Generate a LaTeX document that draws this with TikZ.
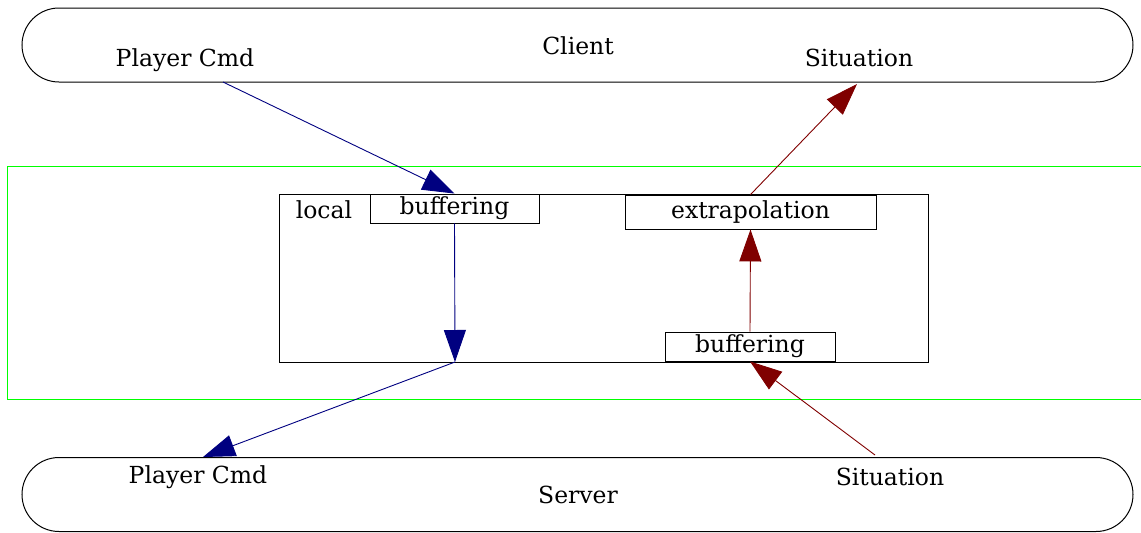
\documentclass[tikz,border=0pt]{standalone}
\usepackage{fontspec}
\setmainfont{DejaVu Serif}
\usetikzlibrary{arrows.meta,shapes.misc}
\definecolor{cmdblue}{HTML}{000080}
\definecolor{sitred}{HTML}{800000}
\definecolor{netgreen}{HTML}{00FF00}
\begin{document}
\begin{tikzpicture}[x=1pt,y=-1pt,
  every node/.style={font=\fontsize{23.5}{27}\selectfont, inner sep=0pt},
  endpoint/.style={draw, line width=1pt, rounded rectangle,
    minimum width=1111pt, minimum height=74pt},
  procbox/.style={draw, line width=0.9pt, minimum height=29pt},
  flow/.style={line width=0.9pt, -{Triangle[length=32pt,width=22pt]}},
  cmdflow/.style={flow, cmdblue},
  sitflow/.style={flow, sitred}]
\useasboundingbox (0,0) rectangle (1141,533);

% network zone
\draw[netgreen, line width=0.9pt] (7,166) rectangle (1160,399);

% client and server endpoints
\node[endpoint] (client) at (577.5,45) {};
\node[endpoint] (server) at (577.5,494.5) {};
\node[anchor=base] (clientlbl) at (578,54) {Client};
\node[anchor=base] (serverlbl) at (578,503) {Server};
\node[anchor=base] (cmdC) at (185,66) {Player Cmd};
\node[anchor=base] (sitC) at (859,66) {Situation};
\node[anchor=base] (cmdS) at (198,483) {Player Cmd};
\node[anchor=base] (sitS) at (890,485) {Situation};

% local processing
\node[draw, line width=0.9pt, minimum width=649pt, minimum height=168pt] (local) at (603.5,278) {};
\node[anchor=base] (locallbl) at (324,218) {local};
\node[procbox, minimum width=169pt, fill=white] (bufTop) at (454.5,208.5) {buffering};
\node[procbox, minimum width=251pt, minimum height=34pt] (extrap) at (750.5,212) {extrapolation};
\node[procbox, minimum width=170pt] (bufBot) at (750,346.5) {buffering};

% connector end points on the outlines
\coordinate (cmdCout) at (223,82);
\coordinate (cmdMid) at (455,362);
\coordinate (cmdSin) at (203,457);
\coordinate (sitSout) at (875,455);
\coordinate (sitCin) at (857,84);

% player commands: client -> server
\draw[cmdflow] (cmdCout) -- (bufTop.north);
\draw[cmdflow] (bufTop.south) -- (cmdMid);
\draw[cmdflow] (cmdMid) -- (cmdSin);

% situation: server -> client
\draw[sitflow] (sitSout) -- (bufBot.south);
\draw[sitflow] (bufBot.north) -- (extrap.south);
\draw[sitflow] (extrap.north) -- (sitCin);
\end{tikzpicture}
\end{document}
